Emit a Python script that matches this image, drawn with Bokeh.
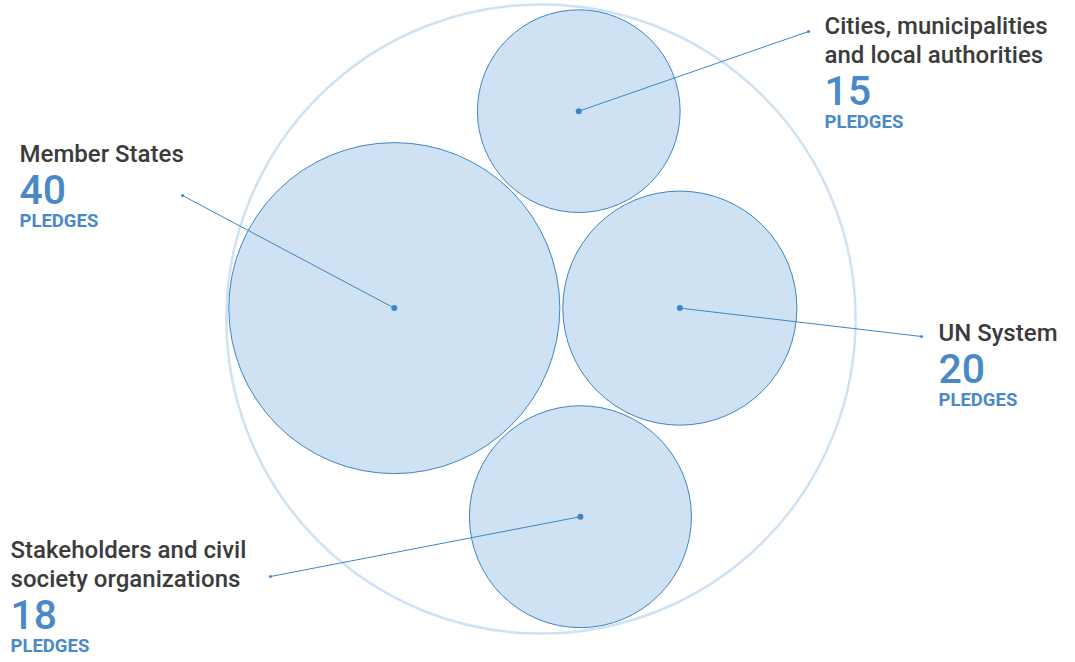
import numpy as np
from bokeh.plotting import figure
from bokeh.models import Range1d, ColumnDataSource
from bokeh.embed import file_html
from bokeh.resources import INLINE
from bokeh.core.properties import value

# ---------------- data ----------------
categories = ["Member States", "UN System",
              "Stakeholders and civil society organizations",
              "Cities, municipalities and local authorities"]
pledges = [40, 20, 18, 15]
title_lines = [["Member States"], ["UN System"],
               ["Stakeholders and civil", "society organizations"],
               ["Cities, municipalities", "and local authorities"]]
unit_label = "PLEDGES"

# ---------------- layout / style ----------------
W, H = 1075, 662
SCALE = 26.17          # px per sqrt(pledge)
PAD = 3                # gap between packed circles
OUTER_PAD = 2
CENTER = (540.5, 318.5)
label_anchor = [(182, 195), (921, 336), (270, 576), (808, 31)]
label_x = [19, 938, 10, 824]
title_base = [162, 341, 558, 34]
LINE_H = 29
NUM_DY = 42
UNIT_DY = 23
TITLE_FS, NUM_FS, UNIT_FS = 24, 41, 18.5
BASE_FIX = 0.36        # renderer baseline correction (fraction of font size)
FONT = "Roboto"
FONT_MED = "Roboto Medium"
FILL = "#cfe2f3"
STROKE = "#3d85c6"
OUTER = "#cfe2f3"
TXT = "#3c3c3c"
BLUE = "#4a89c8"

# ---------------- pack layout ----------------
r = SCALE * np.sqrt(np.array(pledges, dtype=float))


def place(ax, ay, ar, bx, by, br, rc, side):
    da = ar + rc + PAD
    db = br + rc + PAD
    dx, dy = bx - ax, by - ay
    d = np.hypot(dx, dy)
    t = (da ** 2 - db ** 2 + d ** 2) / (2 * d)
    h = np.sqrt(max(da ** 2 - t ** 2, 0))
    ux, uy = dx / d, dy / d
    return ax + ux * t - uy * h * side, ay + uy * t + ux * h * side


xs = np.zeros(4)
ys = np.zeros(4)
xs[1] = r[0] + r[1] + PAD
xs[2], ys[2] = place(xs[0], ys[0], r[0], xs[1], ys[1], r[1], r[2], 1)
xs[3], ys[3] = place(xs[0], ys[0], r[0], xs[1], ys[1], r[1], r[3], -1)


def f(cx, cy):
    return np.max(np.hypot(cx[..., None] - xs, cy[..., None] - ys) + r, axis=-1)


cx, cy = xs.mean(), ys.mean()
span = 300.0
for _ in range(25):
    g = np.linspace(-span, span, 41)
    GX, GY = np.meshgrid(cx + g, cy + g)
    vals = f(GX, GY)
    i = np.unravel_index(np.argmin(vals), vals.shape)
    cx, cy = GX[i], GY[i]
    span /= 4
R = float(f(np.array(cx), np.array(cy))) + OUTER_PAD

xs = xs - cx + CENTER[0]
ys = ys - cy + CENTER[1]

# ---------------- figure ----------------
p = figure(width=W, height=H, x_range=Range1d(0, W), y_range=Range1d(H, 0),
           output_backend="svg", toolbar_location=None, min_border=0,
           x_axis_location=None, y_axis_location=None)
p.grid.visible = False
p.outline_line_color = None
p.background_fill_color = "white"

p.circle(x=[CENTER[0]], y=[CENTER[1]], radius=[R], fill_alpha=0,
         line_color=OUTER, line_width=2.5)

src = ColumnDataSource(dict(x=xs, y=ys, r=r, ax=[a[0] for a in label_anchor],
                            ay=[a[1] for a in label_anchor]))
p.circle(x="x", y="y", radius="r", source=src, fill_color=FILL,
         line_color=STROKE, line_width=1)
p.segment(x0="x", y0="y", x1="ax", y1="ay", source=src, line_color=STROKE, line_width=1)
p.circle(x="x", y="y", radius=3, source=src, fill_color=STROKE, line_color=None)
p.circle(x="ax", y="ay", radius=1.5, source=src, fill_color=STROKE, line_color=None)

tx, ty, tt = [], [], []
nx, ny, nt = [], [], []
ux, uy = [], []
for k in range(4):
    for j, line in enumerate(title_lines[k]):
        tx.append(label_x[k])
        ty.append(title_base[k] + j * LINE_H - BASE_FIX * TITLE_FS)
        tt.append(line)
    last = title_base[k] + (len(title_lines[k]) - 1) * LINE_H
    nx.append(label_x[k]); ny.append(last + NUM_DY - BASE_FIX * NUM_FS); nt.append(str(pledges[k]))
    ux.append(label_x[k]); uy.append(last + NUM_DY + UNIT_DY - BASE_FIX * UNIT_FS)

p.text(x=tx, y=ty, text=tt, text_font=value(FONT_MED), text_font_size=f"{TITLE_FS}px",
       text_color=TXT, text_baseline="alphabetic", text_align="left")
p.text(x=nx, y=ny, text=nt, text_font=value(FONT_MED), text_font_size=f"{NUM_FS}px",
       text_color=BLUE, text_baseline="alphabetic", text_align="left")
p.text(x=ux, y=uy, text=[unit_label] * 4, text_font=value(FONT), text_font_size=f"{UNIT_FS}px",
       text_font_style="bold", text_color=BLUE, text_baseline="alphabetic",
       text_align="left")

open("out.html", "w").write(file_html(p, INLINE))
